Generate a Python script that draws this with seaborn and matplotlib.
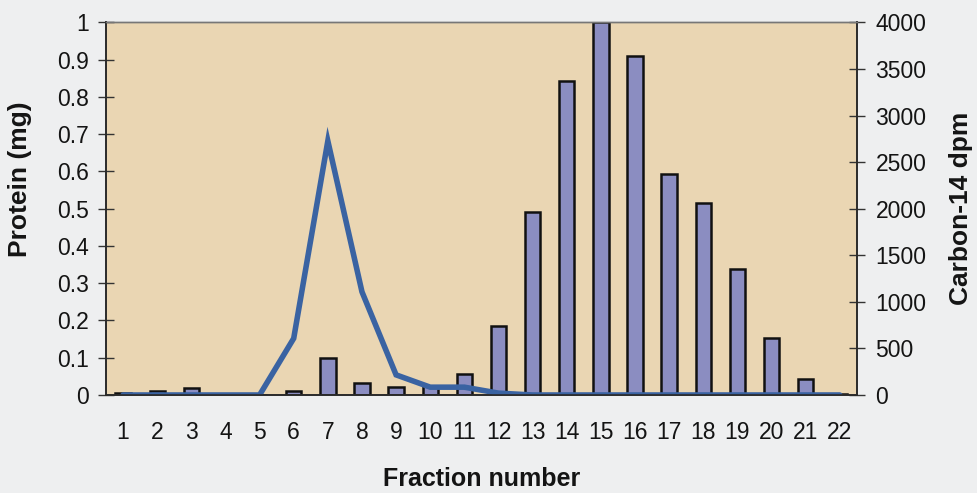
import numpy as np
import pandas as pd
import matplotlib
matplotlib.use("Agg")
import matplotlib.pyplot as plt
import seaborn as sns

# Column fractions: protein content (line) and radioactivity (bars)
fractions = [str(i) for i in range(1, 23)]
protein_mg = [0.0, 0.0, 0.0, 0.0, 0.0, 0.152, 0.682, 0.277, 0.054, 0.021,
              0.021, 0.005, 0.0, 0.0, 0.0, 0.0, 0.0, 0.0, 0.0, 0.0, 0.0, 0.0]
carbon14_dpm = [18, 40, 80, 0, 0, 40, 400, 125, 82, 93,
                230, 740, 1970, 3370, 4000, 3635, 2378, 2062, 1354, 614, 168, 12]

protein_ticks = [0, 0.1, 0.2, 0.3, 0.4, 0.5, 0.6, 0.7, 0.8, 0.9, 1]
protein_labels = ["0", "0.1", "0.2", "0.3", "0.4", "0.5", "0.6", "0.7", "0.8", "0.9", "1"]
dpm_ticks = [0, 500, 1000, 1500, 2000, 2500, 3000, 3500, 4000]

df = pd.DataFrame({"fraction": fractions,
                   "pos": np.arange(len(fractions)),
                   "protein": protein_mg,
                   "dpm": carbon14_dpm})

sns.set_theme(style="white")
plt.rcParams["font.family"] = ["Liberation Sans", "DejaVu Sans"]
ink = "#141414"
plt.rcParams["text.color"] = ink
plt.rcParams["axes.labelcolor"] = ink
plt.rcParams["xtick.color"] = ink
plt.rcParams["ytick.color"] = ink

fig = plt.figure(figsize=(9.77, 4.93), dpi=100, facecolor="#eeeff0")
ax = fig.add_axes([0.1085, 0.1988, 0.7685, 0.7556])
ax2 = ax.twinx()

bg = "#ead6b3"
ax2.patch.set_visible(True)
ax2.set_facecolor(bg)
ax.patch.set_visible(False)
ax.set_zorder(ax2.get_zorder() + 1)

# Bars: Carbon-14 dpm on the right axis
sns.barplot(data=df, x="fraction", y="dpm", ax=ax2, color="#8b8dc1",
            saturation=1, edgecolor="#111111", linewidth=1.8, width=0.45)

# Line: protein on the left axis
sns.lineplot(data=df, x="pos", y="protein", ax=ax, color="#3a63a2",
             linewidth=4.0, solid_joinstyle="miter")

n = len(fractions)
for a in (ax, ax2):
    a.set_xlim(-0.5, n - 0.5)
ax.set_ylim(0, 1)
ax2.set_ylim(0, 4000)

tick_fs = 16.5

# x axis: ticks between fractions, labels centred on each fraction
ax.set_xticks(np.arange(n + 1) - 0.5)
ax.set_xticklabels([])
ax.set_xticks(np.arange(n), minor=True)
ax.set_xticklabels(fractions, minor=True, fontsize=tick_fs)
ax.tick_params(axis="x", which="major", direction="inout", length=12, width=1.0, color="#333333")
ax.tick_params(axis="x", which="minor", length=0, pad=19)
ax2.tick_params(axis="x", which="both", bottom=False, labelbottom=False)

ax.set_yticks(protein_ticks)
ax.set_yticklabels(protein_labels, fontsize=tick_fs)
ax.tick_params(axis="y", direction="inout", length=11, width=1.0, color="#333333", pad=7, left=True)

ax2.set_yticks(dpm_ticks)
ax2.set_yticklabels([str(t) for t in dpm_ticks], fontsize=tick_fs)
ax2.tick_params(axis="y", direction="inout", length=11, width=1.0, color="#333333", pad=8, right=True)

ax.set_xlabel("Fraction number", fontsize=18, fontweight="bold", labelpad=16)
ax.set_ylabel("Protein (mg)", fontsize=19, fontweight="bold", labelpad=18)
ax.yaxis.label.set_y(0.58)
ax2.set_ylabel("Carbon-14 dpm", fontsize=19, fontweight="bold", labelpad=16)
ax2.set_xlabel("")

for a in (ax, ax2):
    for side in ("left", "bottom", "right"):
        a.spines[side].set_color("#2a2a2a")
        a.spines[side].set_linewidth(1.2)
    a.spines["top"].set_color("#777777")
    a.spines["top"].set_linewidth(1.0)

fig.savefig("out.png", dpi=100, facecolor=fig.get_facecolor())
